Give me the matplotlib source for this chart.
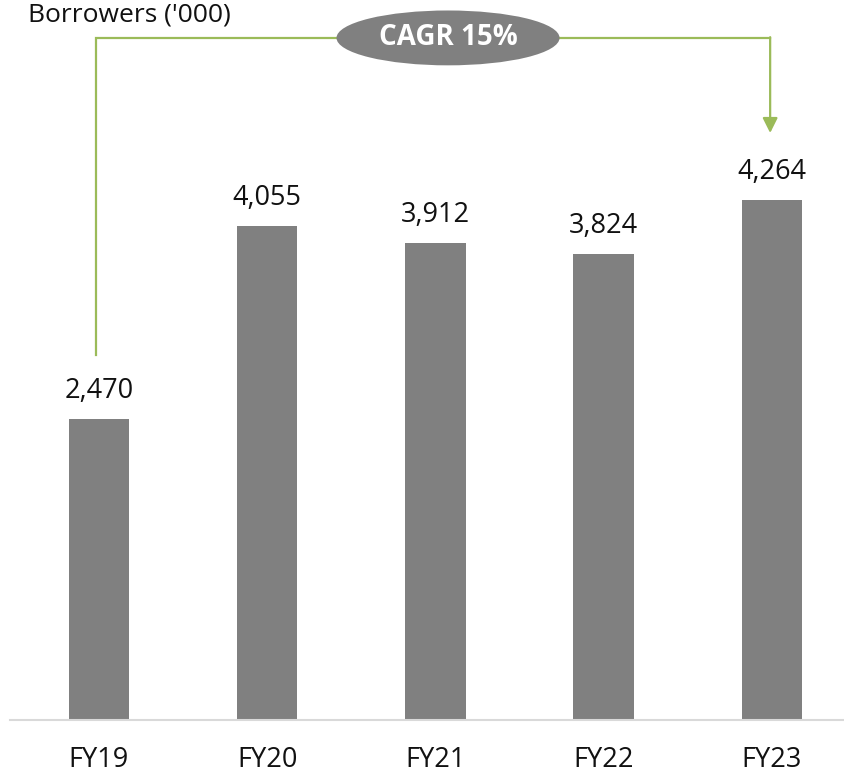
import matplotlib
matplotlib.use("Agg")
import matplotlib.pyplot as plt
from matplotlib.patches import Ellipse

plt.rcParams['font.family'] = ['Open Sans', 'DejaVu Sans']

categories = ["FY19", "FY20", "FY21", "FY22", "FY23"]
borrowers = [2470, 4055, 3912, 3824, 4264]
value_labels = ["2,470", "4,055", "3,912", "3,824", "4,264"]
cagr_text = "CAGR 15%"
title_text = "Borrowers ('000)"

BAR = "#808080"
GREEN = "#9bbb59"

W, H, DPI = 844, 774, 100
fig = plt.figure(figsize=(W / DPI, H / DPI), dpi=DPI)
ax = fig.add_axes([10 / W, 54 / H, 834 / W, 720 / H])

x = list(range(len(categories)))
ax.bar(x, borrowers, width=0.36, color=BAR, zorder=2)

ax.set_xlim(-0.529, 4.429)
ax.set_ylim(0, 5906)

for xi, v, lab in zip(x, borrowers, value_labels):
    ax.annotate(lab, (xi, v), xytext=(0, 10), textcoords="offset points",
                ha="center", va="bottom", fontsize=19.5, color="#111111")

ax.set_xticks(x)
ax.set_xticklabels(categories, fontsize=19.5, color="#111111")
ax.tick_params(axis="x", length=0, pad=18.5)
ax.set_yticks([])
for s in ("left", "right", "top"):
    ax.spines[s].set_visible(False)
ax.spines["bottom"].set_color("#d9d9d9")
ax.spines["bottom"].set_linewidth(1.5)

# CAGR connector from FY19 to FY23
y_top = 5595
y_start = borrowers[0] + 524
y_arrow = borrowers[-1] + 551
ax.plot([-0.018, -0.018, 3.99], [y_start, y_top, y_top], color=GREEN,
        lw=1.6, solid_joinstyle="miter", clip_on=False, zorder=3)
ax.annotate("", xy=(3.99, y_arrow), xytext=(3.99, y_top + 6),
            arrowprops=dict(arrowstyle="-|>,head_length=0.9,head_width=0.45",
                            color=GREEN, lw=1.6, shrinkA=0, shrinkB=0),
            annotation_clip=False, zorder=3)

ell = Ellipse((2.075, y_top), width=1.326, height=450, facecolor=BAR,
              edgecolor="none", zorder=4, clip_on=False)
ax.add_patch(ell)
ax.text(2.075, y_top, cagr_text, ha="center", va="center", fontsize=20,
        fontweight="bold", color="white", zorder=5)

fig.text(28 / W, 1 - 22 / H, title_text, ha="left", va="baseline",
         fontsize=19, color="#111111")

fig.savefig("out.png", dpi=DPI)
